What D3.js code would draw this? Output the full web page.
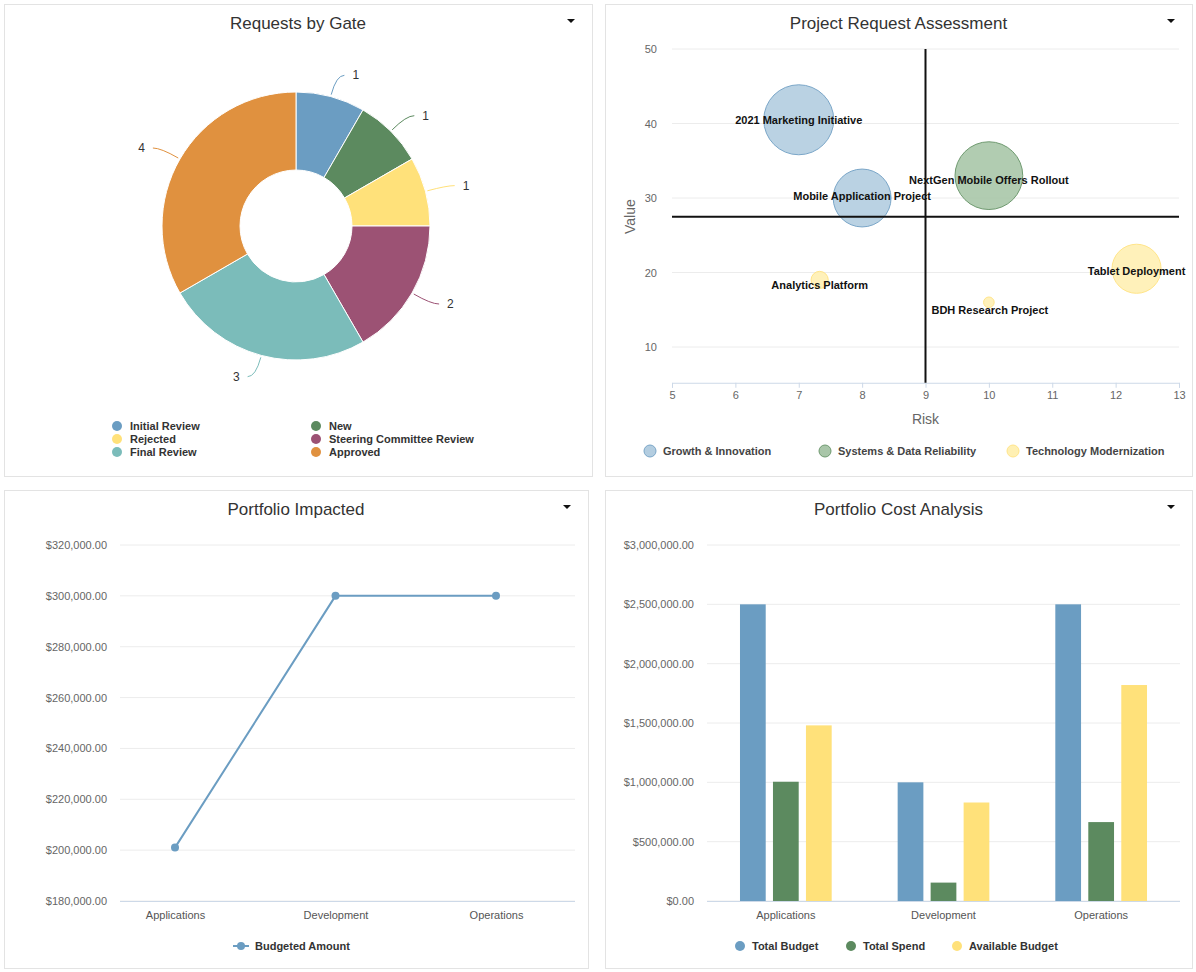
<!DOCTYPE html>
<html><head><meta charset="utf-8">
<script src="https://cdn.jsdelivr.net/npm/d3@7"></script>
<style>
body{margin:0;background:#fff;font-family:Arial,"Liberation Sans",sans-serif}
</style></head>
<body><svg id="c" width="1196" height="972"></svg>
<script>
// donut
var gates = ["Initial Review","New","Rejected","Steering Committee Review","Final Review","Approved"];
var gateCounts = [1,1,1,2,3,4];
var gateColors = ["#6b9dc2","#5c8a5f","#ffe17a","#9c5274","#7bbcba","#e0913f"];
// bubbles
var projects = ["2021 Marketing Initiative","Mobile Application Project","NextGen Mobile Offers Rollout","Analytics Platform","Tablet Deployment","BDH Research Project"];
var projRisk = [7,8,10,7.33,12.33,10];
var projValue = [40.5,30,33,19,20.5,16];
var projSize = [30,20,28,1.2,14,0.3];
var projGroup = [0,0,1,2,2,2];
var groups = ["Growth & Innovation","Systems & Data Reliability","Technology Modernization"];
var groupFill = ["#b3cde0","#a9c6a9","#fff0b3"];
var groupStroke = ["#7aa6c8","#6f9a70","#ffe58a"];
// line
var portfolios = ["Applications","Development","Operations"];
var budgeted = [201000,300000,300000];
var lineTicks = [180000,200000,220000,240000,260000,280000,300000,320000];
// bars
var costSeries = ["Total Budget","Total Spend","Available Budget"];
var costColors = ["#6b9dc2","#5c8a5f","#ffe17a"];
var totalBudget = [2500000,1000000,2500000];
var totalSpend = [1005000,155000,665000];
var availBudget = [1480000,830000,1820000];
var barTicks = [0,500000,1000000,1500000,2000000,2500000,3000000];

var svg = d3.select("#c");
var money = d3.format("$,.2f");

function panel(x,y,w,h,title){
  svg.append("rect").attr("x",x+0.5).attr("y",y+0.5).attr("width",w).attr("height",h)
    .attr("fill","#fff").attr("stroke","#e3e3e3");
  svg.append("text").attr("x",x+w/2).attr("y",y+25).attr("text-anchor","middle")
    .attr("font-size",17).attr("fill","#333").text(title);
  svg.append("path").attr("d","M"+(x+w-25)+","+(y+15)+"l8,0l-4,4z").attr("fill","#111");
}
panel(4,4,588,472,"Requests by Gate");
panel(605,4,587,472,"Project Request Assessment");
panel(4,490,584,478,"Portfolio Impacted");
panel(605,490,587,478,"Portfolio Cost Analysis");

// ---- donut
var cx=296, cy=226, ro=134, ri=56;
var pie = d3.pie().sort(null).value(function(d){return d;});
var arcs = pie(gateCounts);
var arc = d3.arc().innerRadius(ri).outerRadius(ro);
var dg = svg.append("g").attr("transform","translate("+cx+","+cy+")");
dg.selectAll("path.s").data(arcs).enter().append("path")
  .attr("d",arc).attr("fill",function(d,i){return gateColors[i];})
  .attr("stroke","#fff").attr("stroke-width",1);
arcs.forEach(function(d,i){
  var a=(d.startAngle+d.endAngle)/2;
  var p1=[Math.sin(a)*(ro+2),-Math.cos(a)*(ro+2)];
  var p2=[Math.sin(a)*(ro+22),-Math.cos(a)*(ro+22)];
  var dir=Math.sin(a)>=0?1:-1;
  var p3=[p2[0]+dir*8,p2[1]];
  dg.append("path").attr("d","M"+p1+"Q"+p2+" "+p3).attr("fill","none")
    .attr("stroke",gateColors[i]).attr("stroke-width",1);
  dg.append("text").attr("x",p3[0]+dir*8).attr("y",p3[1]+4)
    .attr("text-anchor",dir>0?"start":"end").attr("font-size",12).attr("fill","#333").text(gateCounts[i]);
});
gates.forEach(function(g,i){
  var lx=117+(i%2)*199, ly=426+Math.floor(i/2)*13;
  svg.append("circle").attr("cx",lx).attr("cy",ly).attr("r",5).attr("fill",gateColors[i]);
  svg.append("text").attr("x",lx+13).attr("y",ly+4).attr("font-size",11).attr("font-weight","bold")
    .attr("fill","#333").text(g);
});

// ---- bubble
var bx = d3.scaleLinear().domain([5,13]).range([672,1179]);
var by = d3.scaleLinear().domain([10,50]).range([347,49]);
var br = d3.scaleSqrt().domain([0,30]).range([0,30]);
var bAxisY = by(5.2);
[10,20,30,40,50].forEach(function(t){
  svg.append("line").attr("x1",672).attr("x2",1179).attr("y1",by(t)).attr("y2",by(t)).attr("stroke","#ececec");
});
svg.append("g").attr("transform","translate(0,"+bAxisY+")")
  .call(d3.axisBottom(bx).ticks(8).tickSize(5))
  .call(function(g){g.select(".domain").attr("stroke","#cdd9e8");g.selectAll("line").attr("stroke","#cdd9e8");
    g.selectAll("text").attr("fill","#666").attr("font-size",11);});
svg.append("g").attr("transform","translate(660,0)")
  .call(d3.axisLeft(by).tickValues([10,20,30,40,50]).tickSize(0))
  .call(function(g){g.select(".domain").remove();g.selectAll("text").attr("fill","#666").attr("font-size",11);});
svg.append("text").attr("x",bx(9)).attr("y",424).attr("text-anchor","middle").attr("font-size",14).attr("fill","#666").text("Risk");
svg.append("text").attr("transform","translate(635,"+by(27.5)+") rotate(-90)").attr("text-anchor","middle")
  .attr("font-size",14).attr("fill","#666").text("Value");
projects.forEach(function(p,i){
  svg.append("circle").attr("cx",bx(projRisk[i])).attr("cy",by(projValue[i])).attr("r",br(projSize[i])*1.1+2)
    .attr("fill",groupFill[projGroup[i]]).attr("fill-opacity",0.9).attr("stroke",groupStroke[projGroup[i]]);
});
svg.append("line").attr("x1",bx(9)).attr("x2",bx(9)).attr("y1",by(50)).attr("y2",bAxisY).attr("stroke","#111").attr("stroke-width",2);
svg.append("line").attr("x1",672).attr("x2",1179).attr("y1",by(27.5)).attr("y2",by(27.5)).attr("stroke","#111").attr("stroke-width",2);
var labOff=[[0,0],[0,-2],[0,4],[0,5],[0,2],[1,8]];
projects.forEach(function(p,i){
  svg.append("text").attr("x",bx(projRisk[i])+labOff[i][0]).attr("y",by(projValue[i])+4+labOff[i][1])
    .attr("text-anchor","middle").attr("font-size",11).attr("font-weight","bold").attr("fill","#111").text(p);
});
var glx=[650,825,1013];
groups.forEach(function(g,i){
  svg.append("circle").attr("cx",glx[i]).attr("cy",451).attr("r",6).attr("fill",groupFill[i]).attr("stroke",groupStroke[i]);
  svg.append("text").attr("x",glx[i]+13).attr("y",455).attr("font-size",11).attr("font-weight","bold").attr("fill","#444").text(g);
});

// ---- line chart
var lx = d3.scalePoint().domain(portfolios).range([175,496]);
var ly = d3.scaleLinear().domain([180000,320000]).range([901,545]);
lineTicks.forEach(function(t){
  svg.append("line").attr("x1",120).attr("x2",575).attr("y1",ly(t)).attr("y2",ly(t)).attr("stroke","#ececec");
});
svg.append("g").attr("transform","translate(110,0)")
  .call(d3.axisLeft(ly).tickValues(lineTicks).tickSize(0).tickFormat(money))
  .call(function(g){g.select(".domain").remove();g.selectAll("text").attr("fill","#666").attr("font-size",11);});
svg.append("line").attr("x1",120).attr("x2",575).attr("y1",901.5).attr("y2",901.5).attr("stroke","#cdd9e8");
svg.append("g").attr("transform","translate(0,901)")
  .call(d3.axisBottom(lx).tickSize(0).tickPadding(10))
  .call(function(g){g.select(".domain").remove();g.selectAll("text").attr("fill","#555").attr("font-size",11);});
var lineGen = d3.line().x(function(d,i){return lx(portfolios[i]);}).y(function(d){return ly(d);});
svg.append("path").datum(budgeted).attr("d",lineGen).attr("fill","none").attr("stroke","#6b9dc2").attr("stroke-width",2);
svg.selectAll("circle.lp").data(budgeted).enter().append("circle")
  .attr("cx",function(d,i){return lx(portfolios[i]);}).attr("cy",function(d){return ly(d);}).attr("r",4).attr("fill","#6b9dc2");
svg.append("line").attr("x1",233).attr("x2",249).attr("y1",946).attr("y2",946).attr("stroke","#6b9dc2").attr("stroke-width",2);
svg.append("circle").attr("cx",241).attr("cy",946).attr("r",4).attr("fill","#6b9dc2");
svg.append("text").attr("x",255).attr("y",950).attr("font-size",11).attr("font-weight","bold").attr("fill","#333").text("Budgeted Amount");

// ---- bar chart
var cx0 = d3.scaleBand().domain(portfolios).range([707,1180]);
var cx1 = d3.scaleBand().domain(costSeries).range([0,cx0.bandwidth()]).paddingInner(0.22).paddingOuter(1.0);
var cy0 = d3.scaleLinear().domain([0,3000000]).range([901,545]);
barTicks.forEach(function(t){
  svg.append("line").attr("x1",707).attr("x2",1180).attr("y1",cy0(t)).attr("y2",cy0(t)).attr("stroke","#ececec");
});
svg.append("g").attr("transform","translate(697,0)")
  .call(d3.axisLeft(cy0).tickValues(barTicks).tickSize(0).tickFormat(money))
  .call(function(g){g.select(".domain").remove();g.selectAll("text").attr("fill","#666").attr("font-size",11);});
var costVals=[totalBudget,totalSpend,availBudget];
portfolios.forEach(function(p,i){
  costSeries.forEach(function(s,j){
    svg.append("rect").attr("x",cx0(p)+cx1(s)).attr("width",cx1.bandwidth())
      .attr("y",cy0(costVals[j][i])).attr("height",901-cy0(costVals[j][i])).attr("fill",costColors[j]);
  });
});
svg.append("line").attr("x1",707).attr("x2",1180).attr("y1",901.5).attr("y2",901.5).attr("stroke","#cdd9e8");
svg.append("g").attr("transform","translate(0,901)")
  .call(d3.axisBottom(cx0).tickSize(0).tickPadding(10))
  .call(function(g){g.select(".domain").remove();g.selectAll("text").attr("fill","#555").attr("font-size",11);});
var clx=[740,851,957];
costSeries.forEach(function(s,i){
  svg.append("circle").attr("cx",clx[i]).attr("cy",946).attr("r",5).attr("fill",costColors[i]);
  svg.append("text").attr("x",clx[i]+12).attr("y",950).attr("font-size",11).attr("font-weight","bold").attr("fill","#333").text(s);
});
</script></body></html>
